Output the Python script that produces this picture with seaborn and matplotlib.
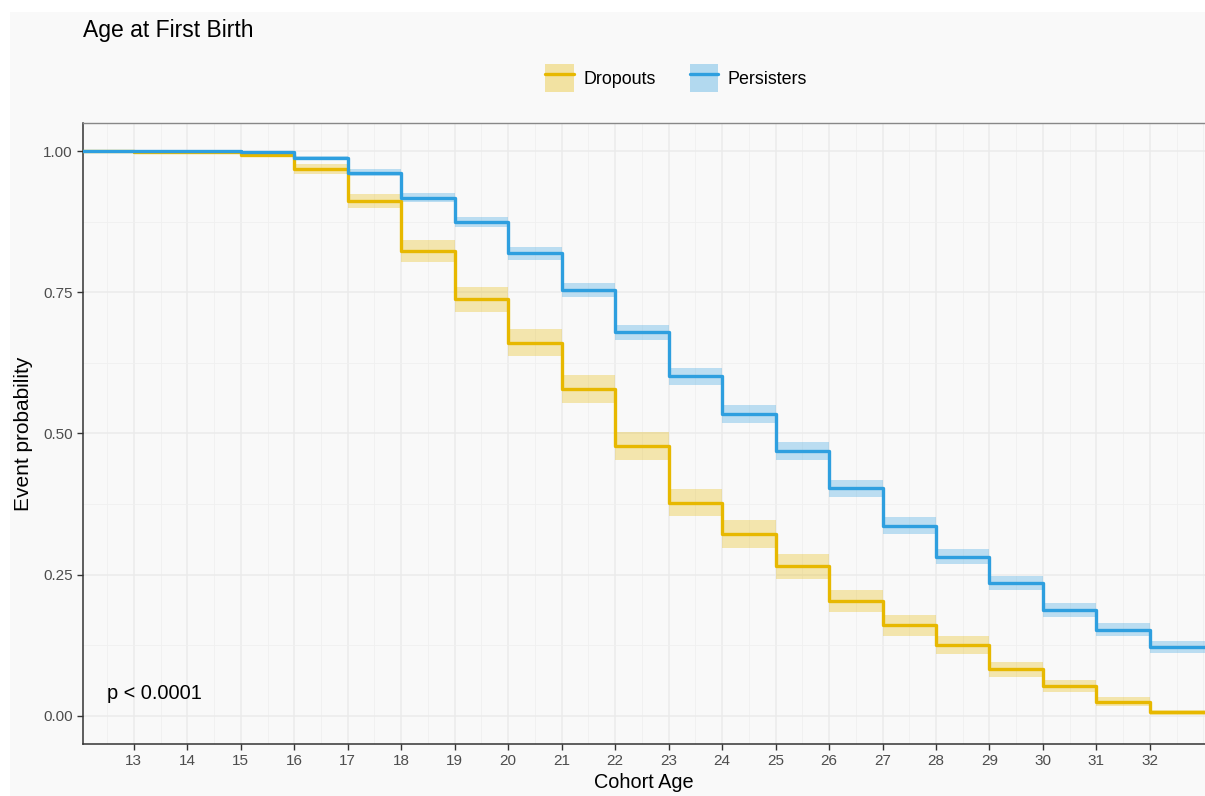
import numpy as np
import pandas as pd
import matplotlib
matplotlib.use("Agg")
import matplotlib.pyplot as plt
import seaborn as sns
from matplotlib.patches import Patch, Rectangle
from matplotlib.lines import Line2D
from matplotlib.ticker import MultipleLocator, FormatStrFormatter

# Step times (value holds on [t, t+1)), last one carries the curve to the edge
ages = [12, 13, 14, 15, 16, 17, 18, 19, 20, 21, 22, 23, 24, 25, 26, 27, 28, 29, 30, 31, 32, 34]

dropouts = [1.000, 0.999, 0.998, 0.994, 0.968, 0.912, 0.823, 0.738, 0.661, 0.579, 0.478,
            0.377, 0.322, 0.265, 0.203, 0.160, 0.125, 0.082, 0.053, 0.025, 0.006, 0.006]
dropouts_hw = [0.000, 0.001, 0.002, 0.004, 0.009, 0.013, 0.019, 0.022, 0.024, 0.025, 0.025,
               0.024, 0.024, 0.022, 0.020, 0.018, 0.016, 0.013, 0.011, 0.008, 0.004, 0.004]

persisters = [1.000, 1.000, 1.000, 0.999, 0.988, 0.962, 0.918, 0.875, 0.819, 0.754, 0.679,
              0.601, 0.534, 0.469, 0.403, 0.337, 0.282, 0.235, 0.188, 0.152, 0.122, 0.122]
persisters_hw = [0.000, 0.000, 0.000, 0.001, 0.004, 0.006, 0.008, 0.009, 0.011, 0.013, 0.014,
                 0.015, 0.016, 0.0155, 0.0155, 0.015, 0.014, 0.013, 0.0125, 0.0115, 0.011, 0.011]

groups = ["Dropouts", "Persisters"]
colors = {"Dropouts": "#E7B800", "Persisters": "#2E9FDF"}

df = pd.concat([
    pd.DataFrame({"age": ages, "prob": dropouts, "hw": dropouts_hw, "group": "Dropouts"}),
    pd.DataFrame({"age": ages, "prob": persisters, "hw": persisters_hw, "group": "Persisters"}),
])

sns.set_style("whitegrid")
plt.rcParams["font.family"] = ["Liberation Sans", "DejaVu Sans"]
plt.rcParams["text.color"] = "black"

bg = "#F9F9F9"
fig = plt.figure(figsize=(12.05, 7.96), dpi=100, facecolor="white")
fig.patches.append(Rectangle((10 / 1205, 0.0), 1.0, 1 - 12 / 796, transform=fig.transFigure,
                             facecolor=bg, edgecolor="none", zorder=-10))
ax = fig.add_axes([83 / 1205, 52 / 796, 1 - 83 / 1205, (744 - 123) / 796])
ax.set_facecolor(bg)

# confidence bands
for g in groups:
    d = df[df["group"] == g]
    ax.fill_between(d["age"], d["prob"] - d["hw"], d["prob"] + d["hw"], step="post",
                    color=colors[g], alpha=0.3, linewidth=0, zorder=2)

sns.lineplot(data=df, x="age", y="prob", hue="group", palette=colors, drawstyle="steps-post",
             linewidth=2.4, legend=False, ax=ax, zorder=3)

ax.set_xlim(12.05, 33.03)
ax.set_ylim(-0.05, 1.05)
ax.xaxis.set_major_locator(MultipleLocator(1))
ax.xaxis.set_minor_locator(MultipleLocator(0.5))
ax.yaxis.set_major_locator(MultipleLocator(0.25))
ax.yaxis.set_minor_locator(MultipleLocator(0.125))
ax.yaxis.set_major_formatter(FormatStrFormatter("%.2f"))
ax.set_xticks(range(13, 33))

ax.grid(which="major", color="#EBEBEB", linewidth=1.1)
ax.grid(which="minor", color="#F0F0F0", linewidth=0.6)
ax.set_axisbelow(True)

for s in ["left", "bottom"]:
    ax.spines[s].set_color("#333333")
    ax.spines[s].set_linewidth(1.1)
ax.spines["top"].set_color("#888888")
ax.spines["top"].set_linewidth(1.0)
ax.spines["right"].set_visible(False)

ax.tick_params(axis="both", which="major", length=4, width=1, color="#333333",
               labelsize=11, labelcolor="#4D4D4D", direction="out", bottom=True, left=True)
ax.tick_params(which="minor", length=0)

ax.set_xlabel("Cohort Age", fontsize=14.3, color="black", labelpad=3)
ax.set_ylabel("Event probability", fontsize=15, color="black", labelpad=7)

ax.text(12.5, 0.04, "p < 0.0001", fontsize=14.4, ha="left", va="center", color="black")

fig.text(83 / 1205, 1 - 31 / 796, "Age at First Birth", fontsize=16.5, ha="left", va="center",
         color="black")

handles = [(Patch(facecolor=colors[g], alpha=0.35, edgecolor="none"),
            Line2D([], [], color=colors[g], linewidth=2.4)) for g in groups]
fig.legend(handles, groups, loc="center", bbox_to_anchor=(676 / 1205, 1 - 78 / 796), ncol=2,
           frameon=False, fontsize=12.9, handlelength=1.6, handleheight=2.0,
           handletextpad=0.5, columnspacing=1.9, labelcolor="black")

fig.savefig("out.png", dpi=100, facecolor=fig.get_facecolor())
